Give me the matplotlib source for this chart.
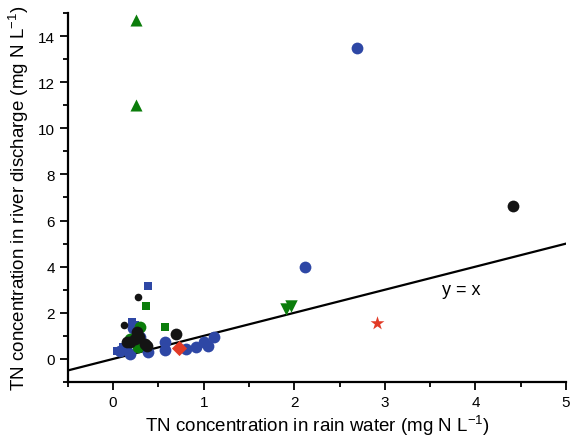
import matplotlib
matplotlib.use("Agg")
import matplotlib.pyplot as plt
from matplotlib.ticker import MultipleLocator

plt.rcParams["font.family"] = ["Liberation Sans", "DejaVu Sans"]

# blue circles
blue_cx = [2.69, 2.12, 0.57, 0.57, 0.39, 0.08, 0.19, 0.80, 0.91, 1.00, 1.05, 1.11, 0.22, 0.30, 0.14]
blue_cy = [13.5, 4.0, 0.73, 0.40, 0.30, 0.36, 0.22, 0.43, 0.52, 0.73, 0.57, 0.94, 1.35, 0.95, 0.55]
# blue squares
blue_sx = [0.38, 0.21, 0.04, 0.11, 0.24]
blue_sy = [3.16, 1.60, 0.36, 0.50, 1.45]
# green triangles
green_tx = [0.25, 0.25]
green_ty = [14.7, 11.03]
# green inverted triangles
green_vx = [1.96, 1.91]
green_vy = [2.28, 2.15]
# green squares
green_sx = [0.36, 0.57]
green_sy = [2.30, 1.38]
# green circles
green_cx = [0.30, 0.19, 0.28]
green_cy = [1.38, 0.86, 0.52]
# black circles, big
black_cx = [4.41, 0.69, 0.26, 0.19, 0.35, 0.24, 0.37, 0.15, 0.29]
black_cy = [6.64, 1.08, 1.16, 0.73, 0.65, 0.86, 0.57, 0.73, 0.95]
# black circles, small
black_sx = [0.28, 0.12]
black_sy = [2.67, 1.47]
# red
red_star = (2.91, 1.55)
red_diamond = (0.73, 0.47)

blue = "#2e47a5"
green = "#0b7d0b"
black = "#141414"
red = "#e23a26"

fig = plt.figure(figsize=(5.7, 4.39), dpi=100)
ax = fig.add_axes([0.119, 0.1276, 0.874, 0.8405])

ax.plot([-0.5, 5], [-0.5, 5], color="black", lw=1.6, zorder=1)
ax.text(3.84, 3.0, "y = x", fontsize=13, ha="center", va="center")

ax.scatter(blue_cx, blue_cy, s=72, color=blue, marker="o", lw=0, zorder=2)
ax.scatter(blue_sx, blue_sy, s=30, color=blue, marker="s", lw=0, zorder=2)
ax.scatter(green_cx, green_cy, s=72, color=green, marker="o", lw=0, zorder=3)
ax.scatter(green_sx, green_sy, s=28, color=green, marker="s", lw=0, zorder=3)
ax.scatter(green_tx, green_ty, s=75, color=green, marker="^", lw=0, zorder=3)
ax.scatter(green_vx, green_vy, s=80, color=green, marker="v", lw=0, zorder=3)
ax.scatter(black_cx, black_cy, s=72, color=black, marker="o", lw=0, zorder=4)
ax.scatter(black_sx, black_sy, s=30, color=black, marker="o", lw=0, zorder=4)
ax.scatter([red_star[0]], [red_star[1]], s=110, color=red, marker="*", lw=0, zorder=5)
ax.scatter([red_diamond[0]], [red_diamond[1]], s=60, color=red, marker="D", lw=0, zorder=5)

ax.set_xlim(-0.5, 5)
ax.set_ylim(-1, 15)
ax.xaxis.set_major_locator(MultipleLocator(1))
ax.xaxis.set_minor_locator(MultipleLocator(0.5))
ax.yaxis.set_major_locator(MultipleLocator(2))
ax.yaxis.set_minor_locator(MultipleLocator(1))
ax.spines["top"].set_visible(False)
ax.spines["right"].set_visible(False)
for s in ("left", "bottom"):
    ax.spines[s].set_linewidth(1.6)
ax.tick_params(which="major", length=6, width=1.3, labelsize=11, direction="out")
ax.tick_params(which="minor", length=3.5, width=1.3, direction="out")

ax.set_xlabel("TN concentration in rain water (mg N L$^{\\mathregular{-1}}$)", fontsize=13.5, labelpad=2)
ax.set_ylabel("TN concentration in river discharge (mg N L$^{\\mathregular{-1}}$)", fontsize=13.5, labelpad=5)

fig.savefig("out.png", dpi=100)
plt.close(fig)
